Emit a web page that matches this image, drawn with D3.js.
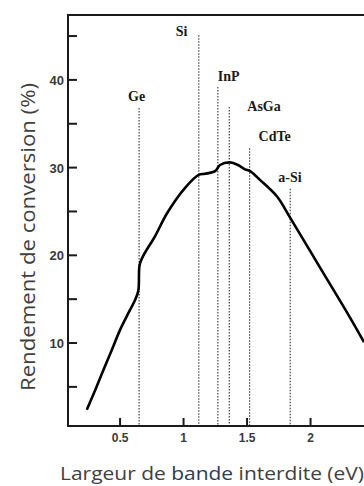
<!DOCTYPE html>
<html>
<head>
<meta charset="utf-8">
<script src="https://cdn.jsdelivr.net/npm/d3@7"></script>
<style>
  body { margin: 0; background: #fff; }
  svg { display: block; }
</style>
</head>
<body>
<div id="chart"></div>
<script>
// Rendement théorique vs largeur de bande interdite
const gapEV = [0.238, 0.303, 0.368, 0.435, 0.500, 0.565, 0.618, 0.644, 0.654, 0.681, 0.776, 0.870, 1.012, 1.122,
               1.169, 1.248, 1.287, 1.366, 1.429, 1.484, 1.524, 1.602, 1.736, 1.839, 2.075, 2.311, 2.421];
const efficiency = [2.4, 4.6, 6.9, 9.2, 11.5, 13.4, 14.9, 16.0, 18.9, 19.9, 22.2, 24.8, 27.7, 29.2,
                    29.3, 29.6, 30.3, 30.6, 30.3, 29.8, 29.6, 28.6, 26.7, 24.3, 18.6, 12.9, 10.1];

// matériaux (gap en eV, hauteur de la ligne pointillée en %)
const materials = ["Ge", "Si", "InP", "AsGa", "CdTe", "a-Si"];
const materialGap = [0.65, 1.12, 1.27, 1.36, 1.52, 1.84];
const materialTop = [36.8, 45.1, 39.2, 36.9, 32.2, 27.6];

const xTicks = [0.5, 1, 1.5, 2];
const xTickLabels = ["0.5", "1", "1.5", "2"];
const yMajorTicks = [10, 20, 30, 40];
const yMinorTicks = [5, 15, 25, 35, 45];

const width = 364, height = 486;
const svg = d3.select("#chart").append("svg")
    .attr("width", width)
    .attr("height", height);

const x = d3.scaleLinear().domain([0.09, 2.421]).range([68, 364]);
const y = d3.scaleLinear().domain([0.54, 47.4]).range([426, 15]);

const ink = "#1a1a1a";

// dotted material lines
materials.forEach((m, i) => {
    svg.append("line")
        .attr("x1", x(materialGap[i])).attr("x2", x(materialGap[i]))
        .attr("y1", y(materialTop[i])).attr("y2", y(0.54))
        .attr("stroke", "#444")
        .attr("stroke-width", 1.2)
        .attr("stroke-dasharray", "1.5,1.5");
});

// material labels
const labelPos = {
    "Ge":   {dx: -11, dy: -7},
    "Si":   {dx: -23, dy: 1},
    "InP":  {dx: 0, dy: -6},
    "AsGa": {dx: 18, dy: 4},
    "CdTe": {dx: 9, dy: -7},
    "a-Si": {dx: -12, dy: -7}
};
materials.forEach((m, i) => {
    const p = labelPos[m];
    svg.append("text")
        .attr("x", x(materialGap[i]) + p.dx)
        .attr("y", y(materialTop[i]) + p.dy)
        .attr("font-family", "Liberation Serif, serif")
        .attr("font-weight", "bold")
        .attr("font-size", 14)
        .attr("fill", ink)
        .text(m);
});

// frame
svg.append("line").attr("x1", 68).attr("x2", 68).attr("y1", 15).attr("y2", 427)
    .attr("stroke", ink).attr("stroke-width", 2);
svg.append("line").attr("x1", 67).attr("x2", 364).attr("y1", 15).attr("y2", 15)
    .attr("stroke", ink).attr("stroke-width", 2);
svg.append("line").attr("x1", 67).attr("x2", 364).attr("y1", 426).attr("y2", 426)
    .attr("stroke", ink).attr("stroke-width", 2);

// y ticks (inside)
svg.selectAll(".ytick")
    .data(yMajorTicks.concat(yMinorTicks))
    .enter().append("line")
    .attr("x1", 68).attr("x2", 77)
    .attr("y1", d => y(d)).attr("y2", d => y(d))
    .attr("stroke", ink).attr("stroke-width", 2);

svg.selectAll(".ylab")
    .data(yMajorTicks)
    .enter().append("text")
    .attr("x", 64)
    .attr("y", d => y(d) + 5)
    .attr("text-anchor", "end")
    .attr("font-family", "Liberation Sans, Arial, sans-serif")
    .attr("font-weight", "bold")
    .attr("font-size", 13)
    .attr("fill", "#3a3a3a")
    .text(d => d);

// x ticks (inside)
svg.selectAll(".xtick")
    .data(xTicks)
    .enter().append("line")
    .attr("x1", d => x(d)).attr("x2", d => x(d))
    .attr("y1", 426).attr("y2", 418)
    .attr("stroke", ink).attr("stroke-width", 2);

svg.selectAll(".xlab")
    .data(xTicks)
    .enter().append("text")
    .attr("x", d => x(d))
    .attr("y", 442)
    .attr("text-anchor", "middle")
    .attr("font-family", "Liberation Sans, Arial, sans-serif")
    .attr("font-weight", "bold")
    .attr("font-size", 12)
    .attr("fill", "#3a3a3a")
    .text((d, i) => xTickLabels[i]);

// curve
const pts = gapEV.map((g, i) => [g, efficiency[i]]);
svg.append("path")
    .datum(pts)
    .attr("d", d3.line().x(d => x(d[0])).y(d => y(d[1])).curve(d3.curveCatmullRom.alpha(0.5)))
    .attr("fill", "none")
    .attr("stroke", "#000")
    .attr("stroke-width", 2.6)
    .attr("stroke-linejoin", "round");

// axis titles
svg.append("text")
    .attr("transform", "translate(35,237) rotate(-90)")
    .attr("text-anchor", "middle")
    .attr("font-family", "Open Sans, sans-serif")
    .attr("font-size", 20)
    .attr("textLength", 308)
    .attr("lengthAdjust", "spacingAndGlyphs")
    .attr("fill", "#404040")
    .text("Rendement de conversion (%)");

const xt = svg.append("text")
    .attr("x", 60)
    .attr("y", 480)
    .attr("font-family", "Open Sans, sans-serif")
    .attr("font-size", 18)
    .attr("textLength", 304)
    .attr("lengthAdjust", "spacingAndGlyphs")
    .attr("fill", "#404040");
xt.append("tspan").text("Largeur de ");
xt.append("tspan").attr("fill", "#2e3b55").text("bande");
xt.append("tspan").text(" interdite (eV)");
</script>
</body>
</html>
